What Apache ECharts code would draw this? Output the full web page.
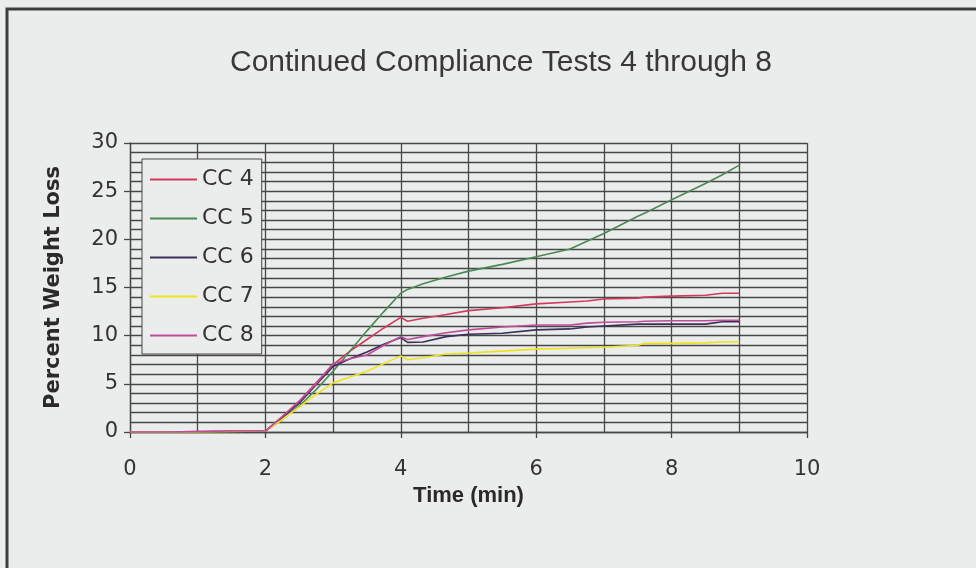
<!DOCTYPE html>
<html>
<head>
<meta charset="utf-8">
<script src="https://cdn.jsdelivr.net/npm/echarts@6/dist/echarts.min.js"></script>
<style>
html,body{margin:0;padding:0;background:#ebedec;}
#chart{width:976px;height:568px;}
</style>
</head>
<body>
<div id="chart"></div>
<script>
var titleText = 'Continued Compliance Tests 4 through 8';
var xName = 'Time (min)';
var yName = 'Percent Weight Loss';
var seriesNames = ['CC 4', 'CC 5', 'CC 6', 'CC 7', 'CC 8'];
var seriesColors = ['#d23a5e', '#4a8a52', '#3c2f5c', '#f0e21c', '#c04c9c'];

var times = [0, 0.5, 1, 1.5, 2, 2.25, 2.5, 2.75, 3, 3.25, 3.5, 3.75, 4, 4.1, 4.33, 4.67, 5, 5.5, 6, 6.5, 6.75, 7, 7.5, 7.6, 8, 8.5, 8.75, 9];
var cc4 = [0, 0, 0.05, 0.1, 0.1, 1.6, 3.2, 5.1, 7.0, 8.4, 9.6, 10.8, 11.9, 11.5, 11.8, 12.2, 12.6, 12.9, 13.3, 13.5, 13.6, 13.8, 13.9, 14.0, 14.1, 14.2, 14.4, 14.4];
var cc5 = [0, 0, 0, 0.05, 0.1, 1.3, 2.7, 4.4, 6.3, 8.4, 10.5, 12.5, 14.4, 14.8, 15.4, 16.1, 16.7, 17.4, 18.2, 19.0, 19.8, 20.6, 22.4, 22.7, 24.1, 25.8, 26.7, 27.7];
var cc6 = [0, 0, 0, 0.05, 0.1, 1.5, 3.0, 4.9, 6.8, 7.6, 8.3, 9.1, 9.8, 9.3, 9.35, 9.9, 10.15, 10.25, 10.6, 10.7, 10.9, 11.0, 11.2, 11.2, 11.2, 11.2, 11.45, 11.45];
var cc7 = [0, 0, 0, 0.05, 0.1, 1.3, 2.6, 3.9, 5.1, 5.7, 6.3, 7.1, 7.9, 7.5, 7.7, 8.1, 8.2, 8.4, 8.6, 8.7, 8.75, 8.8, 9.0, 9.2, 9.2, 9.25, 9.35, 9.35];
var cc8 = [0, 0, 0.05, 0.1, 0.1, 1.6, 3.2, 5.0, 7.1, 7.6, 8.0, 9.0, 9.9, 9.6, 9.9, 10.3, 10.6, 10.9, 11.1, 11.1, 11.3, 11.4, 11.45, 11.5, 11.55, 11.55, 11.6, 11.6];
var seriesValues = [cc4, cc5, cc6, cc7, cc8];

function pairs(vals) {
  return times.map(function (t, i) { return [t, vals[i]]; });
}

var gridColor = '#474747';
var textColor = '#333333';

var chart = echarts.init(document.getElementById('chart'), null, {renderer: 'canvas'});
var option = {
  backgroundColor: '#ebedec',
  animation: false,
  title: {
    text: titleText,
    left: 225,
    top: 43,
    textStyle: {fontFamily: 'Liberation Sans', fontSize: 30, fontWeight: 'normal', color: '#383838'}
  },
  graphic: [{
    type: 'rect',
    shape: {x: 7, y: 9, width: 1000, height: 600},
    style: {fill: 'none', stroke: '#3c3c3c', lineWidth: 3},
    silent: true
  }],
  grid: {left: 130, right: 169, top: 143, bottom: 136, containLabel: false},
  legend: {
    orient: 'vertical',
    left: 142,
    top: 159,
    padding: [8, 8, 6, 8],
    icon: 'rect',
    itemWidth: 47,
    itemHeight: 2,
    itemGap: 14,
    backgroundColor: '#ebedec',
    borderColor: '#444444',
    borderWidth: 1,
    textStyle: {fontFamily: 'DejaVu Sans', fontSize: 22, color: textColor, lineHeight: 25},
    data: seriesNames
  },
  xAxis: {
    type: 'value',
    min: 0, max: 10, interval: 2,
    name: xName,
    nameLocation: 'middle',
    nameGap: 50,
    nameTextStyle: {fontFamily: 'Liberation Sans', fontWeight: 'bold', fontSize: 22, color: '#2a2a2a'},
    axisLine: {show: true, lineStyle: {color: gridColor, width: 1.3}},
    axisTick: {show: true, length: 6, lineStyle: {color: gridColor, width: 1.3}},
    axisLabel: {margin: 27, fontFamily: 'DejaVu Sans', fontSize: 21, color: textColor},
    splitLine: {show: true, lineStyle: {color: gridColor, width: 1.3}},
    minorTick: {show: false, splitNumber: 2},
    minorSplitLine: {show: true, lineStyle: {color: gridColor, width: 1.3}}
  },
  yAxis: {
    type: 'value',
    min: 0, max: 30, interval: 5,
    name: yName,
    nameLocation: 'middle',
    nameGap: 66,
    nameTextStyle: {fontFamily: 'DejaVu Sans', fontWeight: 'bold', fontSize: 21, color: '#2a2a2a'},
    axisLine: {show: true, lineStyle: {color: gridColor, width: 1.3}},
    axisTick: {show: true, length: 6, lineStyle: {color: gridColor, width: 1.3}},
    axisLabel: {margin: 12, fontFamily: 'DejaVu Sans', fontSize: 21, color: textColor},
    splitLine: {show: true, lineStyle: {color: gridColor, width: 1.3}},
    minorTick: {show: false, splitNumber: 5},
    minorSplitLine: {show: true, lineStyle: {color: gridColor, width: 1.3}}
  },
  series: seriesNames.map(function (n, i) {
    return {
      name: n,
      type: 'line',
      data: pairs(seriesValues[i]),
      symbol: 'none',
      showSymbol: false,
      smooth: false,
      lineStyle: {color: seriesColors[i], width: 1.6},
      itemStyle: {color: seriesColors[i]},
      z: 3
    };
  })
};
chart.setOption(option);
</script>
</body>
</html>
